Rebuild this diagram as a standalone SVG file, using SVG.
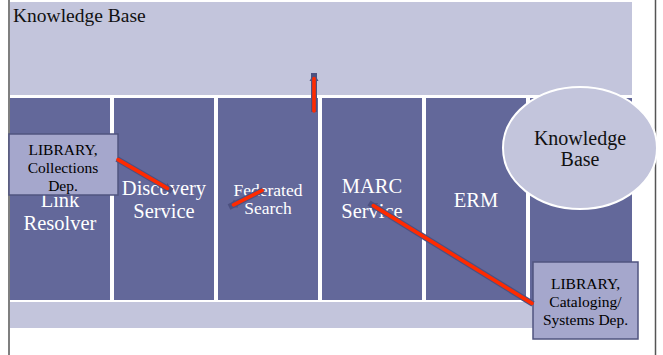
<svg xmlns="http://www.w3.org/2000/svg" width="663" height="355" viewBox="0 0 663 355">
<defs>
<style>
.band{fill:#c3c5dc}
.col{fill:#63689a}
.lbl{fill:#ffffff;text-anchor:middle}
.box{fill:#a5a7cc;stroke:#50547f;stroke-width:1.5}
.btxt{font-size:15.5px;fill:#000000;text-anchor:middle}
.dark{fill:#111111}
.aout{fill:none;stroke:#4d5180;stroke-width:6;stroke-linecap:butt}
.ared{fill:none;stroke:#ff2a00;stroke-width:3.6;stroke-linecap:round}
</style>
<marker id="head" markerUnits="userSpaceOnUse" markerWidth="10" markerHeight="10" refX="8" refY="5" orient="auto">
<path d="M0,0.5 L8,5 L0,9.5 z" fill="#4d5180"/>
</marker>
</defs>
<rect x="0" y="0" width="663" height="355" fill="#ffffff"/>
<line x1="9" y1="0" x2="9" y2="355" stroke="#555555" stroke-width="1.5"/>
<line x1="655.5" y1="0" x2="655.5" y2="355" stroke="#555555" stroke-width="1.5"/>
<g font-family="Liberation Serif, DejaVu Serif, Noto Serif, Times New Roman, Times, serif">
<g id="kb-top">
<rect class="band" x="10" y="2" width="622" height="93"/>
<text class="dark" x="13" y="22" font-size="19.5">Knowledge Base</text>
</g>

<g id="link-resolver">
<rect class="col" x="10" y="98" width="100" height="202"/>
<text class="lbl" font-size="20.5" x="60" y="207">Link</text>
<text class="lbl" font-size="20.5" x="60" y="230">Resolver</text>
</g>
<g id="discovery-service">
<rect class="col" x="114" y="98" width="100" height="202"/>
<text class="lbl" font-size="20.5" x="164" y="195">Discovery</text>
<text class="lbl" font-size="20.5" x="164" y="218">Service</text>
</g>
<g id="federated-search">
<rect class="col" x="218" y="98" width="100" height="202"/>
<text class="lbl" font-size="17.5" x="268" y="196">Federated</text>
<text class="lbl" font-size="17.5" x="268" y="214">Search</text>
</g>
<g id="marc-service">
<rect class="col" x="322" y="98" width="100" height="202"/>
<text class="lbl" font-size="20.5" x="372" y="193">MARC</text>
<text class="lbl" font-size="20.5" x="372" y="218">Service</text>
</g>
<g id="erm">
<rect class="col" x="426" y="98" width="100" height="202"/>
<text class="lbl" font-size="20.5" x="476" y="207">ERM</text>
</g>
<g id="col-6">
<rect class="col" x="530" y="98" width="102" height="202"/>
</g>

<g id="bottom-band">
<rect class="band" x="10" y="302" width="622" height="26"/>
</g>

<g id="kb-ellipse">
<ellipse cx="580" cy="148" rx="77" ry="61" fill="#c3c5dc" stroke="#ffffff" stroke-width="2"/>
<text class="dark" font-size="20" x="580" y="145" text-anchor="middle">Knowledge</text>
<text class="dark" font-size="20" x="580" y="166" text-anchor="middle">Base</text>
</g>

<g id="library-collections">
<rect class="box" x="9" y="134" width="109" height="61"/>
<text class="btxt" x="63" y="155">LIBRARY,</text>
<text class="btxt" x="63" y="173">Collections</text>
<text class="btxt" x="63" y="191">Dep.</text>
</g>

<g id="library-cataloging">
<rect class="box" x="533" y="262" width="105" height="77"/>
<text class="btxt" x="585.5" y="289">LIBRARY,</text>
<text class="btxt" x="585.5" y="307">Cataloging/</text>
<text class="btxt" x="585.5" y="325">Systems Dep.</text>
</g>
</g>
<g id="connectors">
<path class="aout" d="M117,159 L172,191" marker-end="url(#head)"/>
<path class="ared" d="M118,159.6 L167.5,188.4"/>
<path class="aout" d="M263,190 L229,207" marker-end="url(#head)"/>
<path class="ared" d="M262,190.5 L233.5,204.8"/>
<path class="aout" d="M314,112 L314,73" marker-end="url(#head)"/>
<path class="ared" d="M314,111 L314,78.5"/>
<path class="aout" d="M533,304 L369,203" marker-end="url(#head)"/>
<path class="ared" d="M532,303.4 L373.3,205.6"/>
</g>
</svg>
